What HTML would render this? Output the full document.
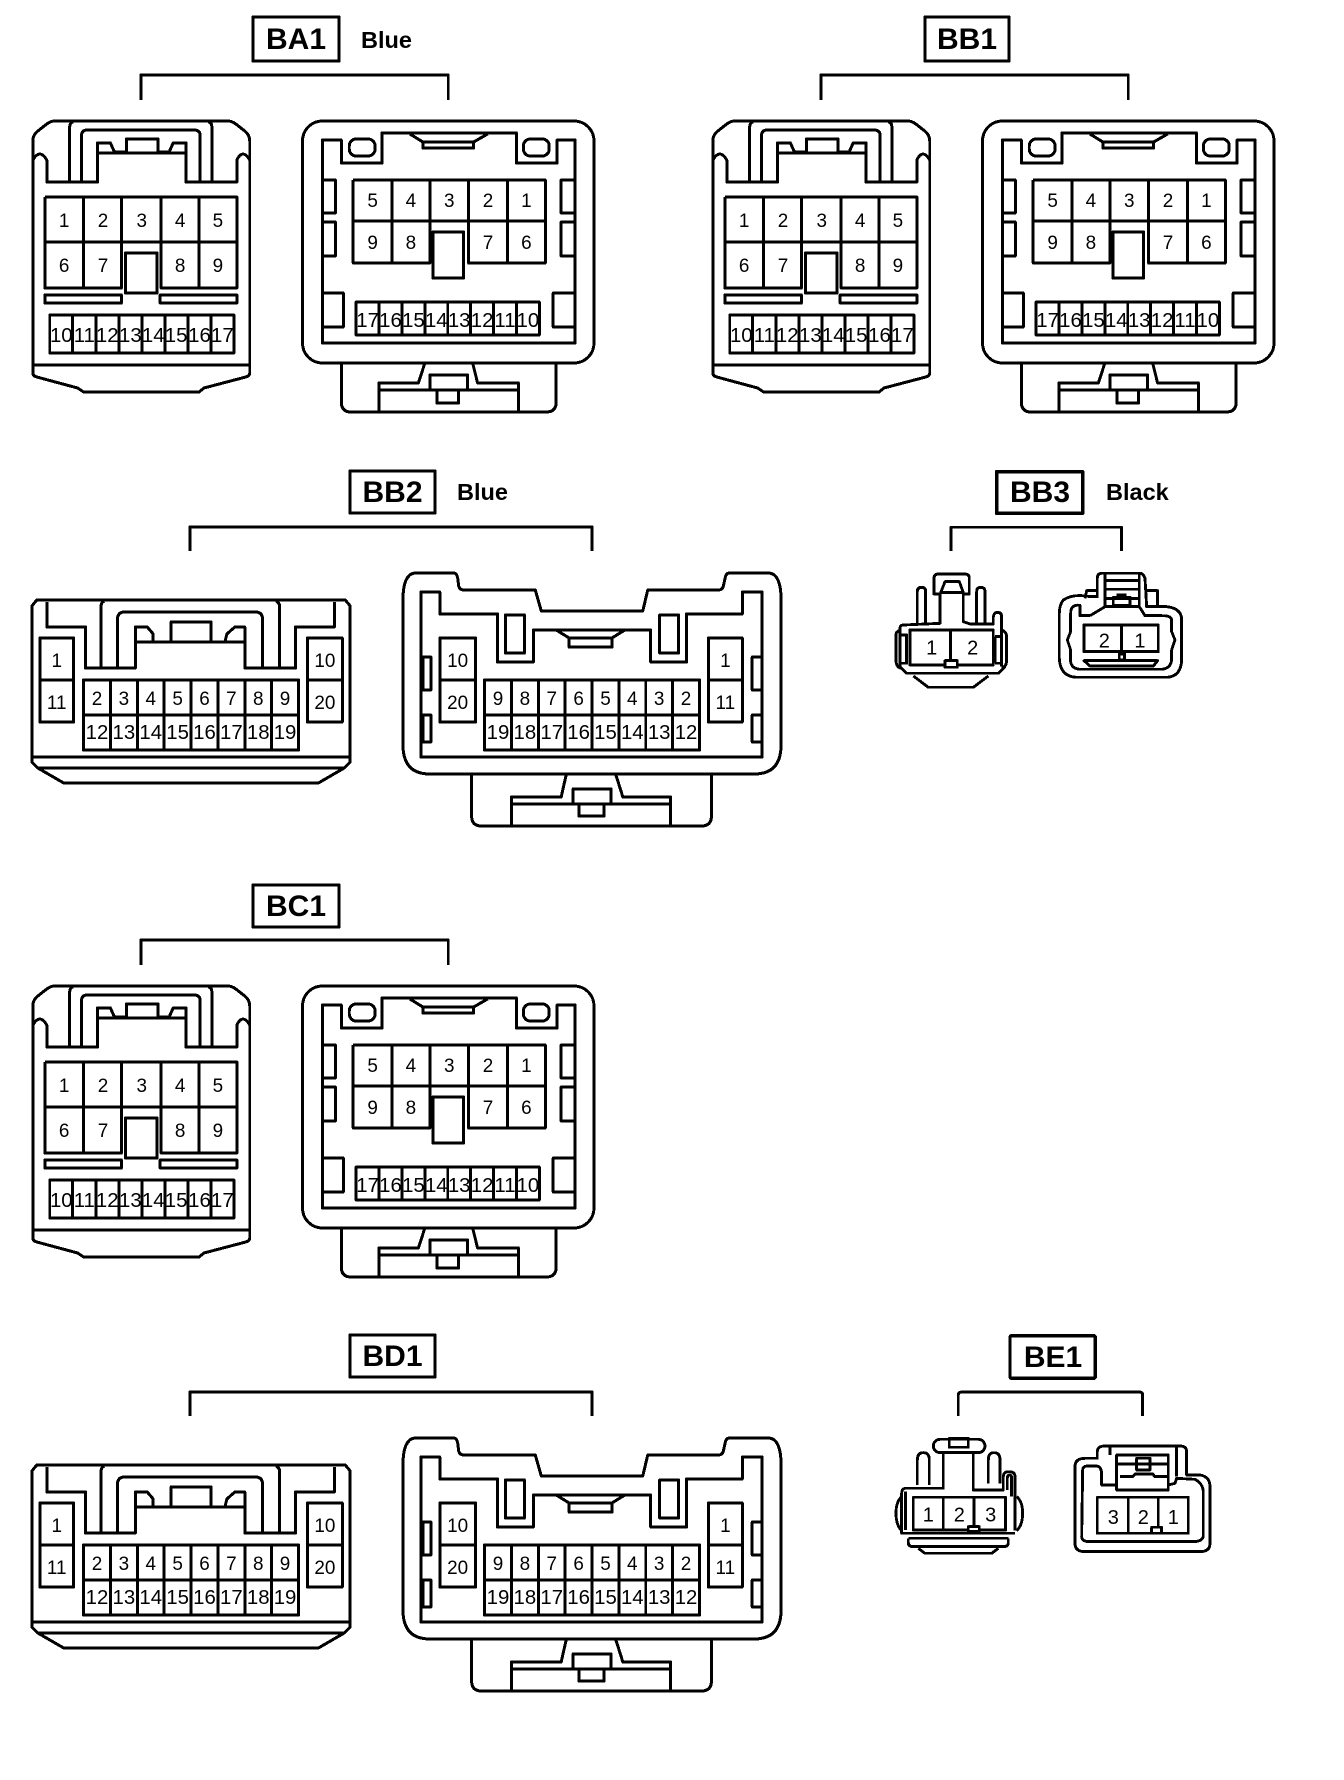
<!DOCTYPE html>
<html><head><meta charset="utf-8"><style>
html,body{margin:0;padding:0;background:#fff}
svg{display:block}
.s{fill:none;stroke:#000;stroke-width:3;stroke-linejoin:round}
.t{font-family:"Liberation Sans",sans-serif;font-size:19px;text-anchor:middle;fill:#000}
.l{font-size:20.5px}
.b{font-family:"Liberation Sans",sans-serif;font-weight:bold;font-size:30px;text-anchor:middle;fill:#000}
.c{font-family:"Liberation Sans",sans-serif;font-weight:bold;font-size:23.5px;fill:#000}
</style></head><body>
<svg width="1344" height="1780" viewBox="0 0 1344 1780" xmlns="http://www.w3.org/2000/svg" shape-rendering="crispEdges">
<rect width="1344" height="1780" fill="#fff"/>
<defs>
<g id="A" class="s">
<path d="M33,141 Q33,135 38,131 L47,124 Q51,121 55,121 L229,121 Q233,121 237,124 L246,131 Q251,135 251,141 L251,373 Q251,376 247,377 L205,388 L200,392 L84,392 L78,388 L37,377 Q33,376 33,373 Z"/>
<path d="M33,365 H251"/>
<path d="M33,160 Q40,148 47,160 V182 H98 V143 H111 L115,152 H127 V139 H159 V152 H170 L174,143 H187 V182 H238 V160 Q244,148 251,160"/>
<path d="M98,153 H187"/>
<path d="M70,182 V128 Q70,122 74,122 M213,182 V128 Q213,122 209,122"/>
<path d="M82,182 V135 Q82,130 88,130 H195 Q201,130 201,135 V182"/>
<path d="M45,197 H238 V288 H162 V242 M45,197 V288 H122 V197 M84,197 V288 M162,197 V242 M200,197 V288 M45,242 H238"/>
<rect x="126" y="253" width="32" height="40" fill="#fff"/>
<rect x="45" y="295" width="77" height="8"/>
<rect x="161" y="295" width="77" height="8"/>
<path d="M50,315 H235 V353 H50 Z M73.1,315 V353 M96.3,315 V353 M119.4,315 V353 M142.5,315 V353 M165.6,315 V353 M188.8,315 V353 M211.9,315 V353"/>
</g>
<g id="B" class="s">
<rect x="304" y="121" width="293" height="242" rx="20"/>
<path d="M324,140 H343 V163 H384 V133 H519 V163 H560 V140 H578 V343 H324 Z"/>
<rect x="351" y="139" width="26" height="17" rx="7"/>
<rect x="526" y="139" width="26" height="17" rx="7"/>
<path d="M412,134 L425,142 V148 H476 V142 L490,134 M425,142 H476"/>
<path d="M324,180 H337 V213 H324 M324,222 H337 V256 H324 M578,180 H564 V213 H578 M578,222 H564 V256 H578"/>
<path d="M324,293 H345 V327 H324 M578,293 H556 V327 H578"/>
<path d="M355,180 H548 V263 H471 V221 M355,180 V263 H432 V180 M394,180 V263 M471,180 V221 M510,180 V263 M355,221 H548"/>
<rect x="435" y="232" width="31" height="46" fill="#fff"/>
<path d="M358,302 H542 V335 H358 Z M381,302 V335 M404,302 V335 M427,302 V335 M450,302 V335 M473,302 V335 M496,302 V335 M519,302 V335"/>
<path d="M343,363 V402 Q343,412 353,412 H549 Q559,412 559,402 V363"/>
<path d="M427,363 L420.5,383 H381 V412 M475,363 L480,383 H521 V412 M381,390 H521"/>
<rect x="432" y="375" width="38" height="15" fill="#fff"/>
<rect x="439" y="390" width="22" height="13"/>
</g>
<g id="D" class="s">
<path d="M32,606 L37,600 H347 L352,606 V762 L346,768 L320,783 H64 L38,768 L32,762 Z"/>
<path d="M32,757 H352 M38,768 H346"/>
<path d="M47,602 V627 H86 V668 H136 V627 H148 L154,634 V642 M136,642 H246 M226,642 L228,634 L236,627 H246 V668 H297 V627 H336 V602"/>
<rect x="172" y="622" width="40" height="20" fill="#fff"/>
<path d="M101.5,668 V607 Q101.5,602 105,601 M281,668 V607 Q281,602 277,601"/>
<path d="M118,668 V620 Q118,612 125,612 H257 Q264,612 264,620 V668"/>
<path d="M40,638 H74 V722 H40 Z M40,680 H74"/>
<path d="M309,638 H344 V722 H309 Z M309,680 H344"/>
<path d="M84,680 H300 V750 H84 Z M84,715 H300 M111,680 V750 M138,680 V750 M165,680 V750 M192,680 V750 M219,680 V750 M246,680 V750 M273,680 V750"/>
</g>
<g id="E" class="s">
<path d="M405,600 Q405,573 418,573 H456 Q459,573 460,578 L461,586 Q462,590 466,590 H538 L544,611 H646 L651,590 H722 Q726,590 727,586 L729,577 Q730,573 733,573 H772 Q785,573 785,600 V745 Q785,774 758,774 H432 Q405,774 405,745 Z"/>
<path d="M423,592 H442 V614 H500 V662 H536 V630 H654 V662 H690 V614 H746 V592 H766 V757 H423 Z"/>
<rect x="508" y="615" width="19" height="38"/>
<rect x="663" y="615" width="19" height="38"/>
<path d="M559,630 L572,638 V647 H615 V638 L628,630 M572,638 H615"/>
<path d="M425,657 H433 V690 H425 Z M425,715 H433 V742 H425 Z M756,657 H766 V690 H756 Z M756,715 H766 V742 H756 Z"/>
<path d="M442,638 H478 V722 H442 Z M442,680 H478"/>
<path d="M712,638 H746 V722 H712 Z M712,680 H746"/>
<path d="M487,680 H703 V750 H487 Z M487,715 H703 M514,680 V750 M541,680 V750 M568,680 V750 M595,680 V750 M622,680 V750 M649,680 V750 M676,680 V750"/>
<path d="M474,774 V816 Q474,826 484,826 H705 Q715,826 715,816 V774"/>
<path d="M569,775 L564,797 H514 V826 M619,775 L626,797 H674 V826 M514,804 H674"/>
<rect x="576" y="789" width="38" height="15" fill="#fff"/>
<rect x="582" y="804" width="25" height="12"/>
</g>
</defs>

<!-- BA1 -->
<rect class="s" x="253" y="17" width="86" height="44" stroke-width="3.5"/>
<text class="b" x="296" y="49">BA1</text>
<text class="c" x="361" y="48">Blue</text>
<g transform="scale(0.995,1)">
<path class="s" d="M141.5,100 V75 H450.5 V100"/>
<use href="#A"/><use href="#B"/>
<text class="t" x="64.5" y="227">1</text><text class="t" x="103.5" y="227">2</text><text class="t" x="142.5" y="227">3</text><text class="t" x="181" y="227">4</text><text class="t" x="219" y="227">5</text>
<text class="t" x="64.5" y="272">6</text><text class="t" x="103.5" y="272">7</text><text class="t" x="181" y="272">8</text><text class="t" x="219" y="272">9</text>
<text class="t l" x="61.6" y="342">10</text><text class="t l" x="84.7" y="342">11</text><text class="t l" x="107.8" y="342">12</text><text class="t l" x="131" y="342">13</text><text class="t l" x="154" y="342">14</text><text class="t l" x="177" y="342">15</text><text class="t l" x="200.5" y="342">16</text><text class="t l" x="223.5" y="342">17</text>
<text class="t" x="374.5" y="207">5</text><text class="t" x="413" y="207">4</text><text class="t" x="451.5" y="207">3</text><text class="t" x="490.5" y="207">2</text><text class="t" x="529" y="207">1</text>
<text class="t" x="374.5" y="249">9</text><text class="t" x="413" y="249">8</text><text class="t" x="490.5" y="249">7</text><text class="t" x="529" y="249">6</text>
<text class="t l" x="369.5" y="327">17</text><text class="t l" x="392.5" y="327">16</text><text class="t l" x="415.5" y="327">15</text><text class="t l" x="438.5" y="327">14</text><text class="t l" x="461.5" y="327">13</text><text class="t l" x="484.5" y="327">12</text><text class="t l" x="507.5" y="327">11</text><text class="t l" x="530.5" y="327">10</text>
</g>

<!-- BB1 -->
<rect class="s" x="925" y="17" width="84" height="44" stroke-width="3.5"/>
<text class="b" x="967" y="49">BB1</text>
<g transform="translate(680,0) scale(0.995,1)">
<path class="s" d="M141.5,100 V75 H450.5 V100"/>
<use href="#A"/><use href="#B"/>
<text class="t" x="64.5" y="227">1</text><text class="t" x="103.5" y="227">2</text><text class="t" x="142.5" y="227">3</text><text class="t" x="181" y="227">4</text><text class="t" x="219" y="227">5</text>
<text class="t" x="64.5" y="272">6</text><text class="t" x="103.5" y="272">7</text><text class="t" x="181" y="272">8</text><text class="t" x="219" y="272">9</text>
<text class="t l" x="61.6" y="342">10</text><text class="t l" x="84.7" y="342">11</text><text class="t l" x="107.8" y="342">12</text><text class="t l" x="131" y="342">13</text><text class="t l" x="154" y="342">14</text><text class="t l" x="177" y="342">15</text><text class="t l" x="200.5" y="342">16</text><text class="t l" x="223.5" y="342">17</text>
<text class="t" x="374.5" y="207">5</text><text class="t" x="413" y="207">4</text><text class="t" x="451.5" y="207">3</text><text class="t" x="490.5" y="207">2</text><text class="t" x="529" y="207">1</text>
<text class="t" x="374.5" y="249">9</text><text class="t" x="413" y="249">8</text><text class="t" x="490.5" y="249">7</text><text class="t" x="529" y="249">6</text>
<text class="t l" x="369.5" y="327">17</text><text class="t l" x="392.5" y="327">16</text><text class="t l" x="415.5" y="327">15</text><text class="t l" x="438.5" y="327">14</text><text class="t l" x="461.5" y="327">13</text><text class="t l" x="484.5" y="327">12</text><text class="t l" x="507.5" y="327">11</text><text class="t l" x="530.5" y="327">10</text>
</g>

<!-- BC1 -->
<rect class="s" x="253" y="885" width="86" height="42" stroke-width="3.5"/>
<text class="b" x="296" y="916">BC1</text>
<g transform="translate(0,865) scale(0.995,1)">
<path class="s" d="M141.5,100 V75 H450.5 V100"/>
<use href="#A"/><use href="#B"/>
<text class="t" x="64.5" y="227">1</text><text class="t" x="103.5" y="227">2</text><text class="t" x="142.5" y="227">3</text><text class="t" x="181" y="227">4</text><text class="t" x="219" y="227">5</text>
<text class="t" x="64.5" y="272">6</text><text class="t" x="103.5" y="272">7</text><text class="t" x="181" y="272">8</text><text class="t" x="219" y="272">9</text>
<text class="t l" x="61.6" y="342">10</text><text class="t l" x="84.7" y="342">11</text><text class="t l" x="107.8" y="342">12</text><text class="t l" x="131" y="342">13</text><text class="t l" x="154" y="342">14</text><text class="t l" x="177" y="342">15</text><text class="t l" x="200.5" y="342">16</text><text class="t l" x="223.5" y="342">17</text>
<text class="t" x="374.5" y="207">5</text><text class="t" x="413" y="207">4</text><text class="t" x="451.5" y="207">3</text><text class="t" x="490.5" y="207">2</text><text class="t" x="529" y="207">1</text>
<text class="t" x="374.5" y="249">9</text><text class="t" x="413" y="249">8</text><text class="t" x="490.5" y="249">7</text><text class="t" x="529" y="249">6</text>
<text class="t l" x="369.5" y="327">17</text><text class="t l" x="392.5" y="327">16</text><text class="t l" x="415.5" y="327">15</text><text class="t l" x="438.5" y="327">14</text><text class="t l" x="461.5" y="327">13</text><text class="t l" x="484.5" y="327">12</text><text class="t l" x="507.5" y="327">11</text><text class="t l" x="530.5" y="327">10</text>
</g>

<!-- BB2 -->
<rect class="s" x="350" y="471" width="85" height="42" stroke-width="3.5"/>
<text class="b" x="392.5" y="502">BB2</text>
<text class="c" x="457" y="500">Blue</text>
<g transform="scale(0.995,1)">
<path class="s" d="M191,551 V527 H595 V551"/>
<use href="#D"/><use href="#E"/>
<text class="t" x="57" y="667">1</text><text class="t" x="57" y="709">11</text><text class="t" x="326.5" y="667">10</text><text class="t" x="326.5" y="709">20</text>
<text class="t" x="97.5" y="705">2</text><text class="t" x="124.5" y="705">3</text><text class="t" x="151.5" y="705">4</text><text class="t" x="178.5" y="705">5</text><text class="t" x="205.5" y="705">6</text><text class="t" x="232.5" y="705">7</text><text class="t" x="259.5" y="705">8</text><text class="t" x="286.5" y="705">9</text>
<text class="t l" x="97.5" y="739">12</text><text class="t l" x="124.5" y="739">13</text><text class="t l" x="151.5" y="739">14</text><text class="t l" x="178.5" y="739">15</text><text class="t l" x="205.5" y="739">16</text><text class="t l" x="232.5" y="739">17</text><text class="t l" x="259.5" y="739">18</text><text class="t l" x="286.5" y="739">19</text>
<text class="t" x="460" y="667">10</text><text class="t" x="460" y="709">20</text><text class="t" x="729" y="667">1</text><text class="t" x="729" y="709">11</text>
<text class="t" x="500.5" y="705">9</text><text class="t" x="527.5" y="705">8</text><text class="t" x="554.5" y="705">7</text><text class="t" x="581.5" y="705">6</text><text class="t" x="608.5" y="705">5</text><text class="t" x="635.5" y="705">4</text><text class="t" x="662.5" y="705">3</text><text class="t" x="689.5" y="705">2</text>
<text class="t l" x="500.5" y="739">19</text><text class="t l" x="527.5" y="739">18</text><text class="t l" x="554.5" y="739">17</text><text class="t l" x="581.5" y="739">16</text><text class="t l" x="608.5" y="739">15</text><text class="t l" x="635.5" y="739">14</text><text class="t l" x="662.5" y="739">13</text><text class="t l" x="689.5" y="739">12</text>
</g>

<!-- BD1 -->
<rect class="s" x="350" y="1335" width="85" height="42" stroke-width="3.5"/>
<text class="b" x="392.5" y="1366">BD1</text>
<g transform="translate(0,865) scale(0.995,1)">
<path class="s" d="M191,551 V527 H595 V551"/>
<use href="#D"/><use href="#E"/>
<text class="t" x="57" y="667">1</text><text class="t" x="57" y="709">11</text><text class="t" x="326.5" y="667">10</text><text class="t" x="326.5" y="709">20</text>
<text class="t" x="97.5" y="705">2</text><text class="t" x="124.5" y="705">3</text><text class="t" x="151.5" y="705">4</text><text class="t" x="178.5" y="705">5</text><text class="t" x="205.5" y="705">6</text><text class="t" x="232.5" y="705">7</text><text class="t" x="259.5" y="705">8</text><text class="t" x="286.5" y="705">9</text>
<text class="t l" x="97.5" y="739">12</text><text class="t l" x="124.5" y="739">13</text><text class="t l" x="151.5" y="739">14</text><text class="t l" x="178.5" y="739">15</text><text class="t l" x="205.5" y="739">16</text><text class="t l" x="232.5" y="739">17</text><text class="t l" x="259.5" y="739">18</text><text class="t l" x="286.5" y="739">19</text>
<text class="t" x="460" y="667">10</text><text class="t" x="460" y="709">20</text><text class="t" x="729" y="667">1</text><text class="t" x="729" y="709">11</text>
<text class="t" x="500.5" y="705">9</text><text class="t" x="527.5" y="705">8</text><text class="t" x="554.5" y="705">7</text><text class="t" x="581.5" y="705">6</text><text class="t" x="608.5" y="705">5</text><text class="t" x="635.5" y="705">4</text><text class="t" x="662.5" y="705">3</text><text class="t" x="689.5" y="705">2</text>
<text class="t l" x="500.5" y="739">19</text><text class="t l" x="527.5" y="739">18</text><text class="t l" x="554.5" y="739">17</text><text class="t l" x="581.5" y="739">16</text><text class="t l" x="608.5" y="739">15</text><text class="t l" x="635.5" y="739">14</text><text class="t l" x="662.5" y="739">13</text><text class="t l" x="689.5" y="739">12</text>
</g>

<!-- BB3 -->
<g transform="translate(860,450) scale(0.33333)">
<g class="s" style="stroke-width:8.5">
<rect x="410" y="65" width="258" height="125" stroke-width="10"/>
<path d="M273,303 V232 H785 V303"/>
<path d="M172,520 V425 Q172,412 185,412 Q197,412 197,425 V520 M350,520 V425 Q350,412 362,412 Q375,412 375,425 V520"/>
<path d="M120,545 V535 Q120,525 130,525 L240,520 V432 H222 V385 Q222,372 235,372 H315 Q328,372 328,385 V432 H310 V515 L330,522 H400 V500 Q402,487 412,487 Q425,487 425,500 V650"/>
<path d="M242,428 L255,395 H298 L310,428 Z"/>
<path d="M150,540 H400 V645 H150 Z M272,540 V632"/>
<rect x="255" y="632" width="37" height="20" fill="#fff"/>
<path d="M120,540 Q106,545 108,560 V630 Q108,650 122,655 M122,555 H140 V640 H122 M405,560 H425 M405,640 H425 M425,540 Q440,545 440,560 V630 Q440,650 425,655 M405,560 V640"/>
<path d="M120,540 V650 L140,670 H415 L435,650"/>
<path d="M160,678 L205,712 H340 L385,678"/>
</g>
<text class="t" x="215" y="614" style="font-size:60px">1</text>
<text class="t" x="338" y="614" style="font-size:60px">2</text>
<g class="s" style="stroke-width:8.5">
<path d="M712,440 H690 Q640,430 610,450 Q598,465 598,490 V625 Q600,680 650,682 H920 Q965,680 965,625 V510 Q965,475 920,470 H860 L855,385 Q850,370 840,370 H725 Q712,370 712,385 Z"/>
<path d="M675,445 L680,422 H712 M856,422 H893 V468"/>
<path d="M690,497 H660 V466 Q632,462 632,490 V545 L622,570 L632,600 V635 Q635,658 665,658 H905 Q935,655 935,625 V600 L945,570 L935,545 V510 Q935,497 905,497 H855 L838,470 V372 M735,372 V470 L690,497"/>
<path d="M738,392 H835 M738,418 H835 M738,446 H835 M738,470 H835"/>
<rect x="760" y="442" width="50" height="24"/>
<path d="M770,435 H800"/>
<path d="M672,525 H895 V605 H672 Z M785,525 V605"/>
<path d="M672,632 H893 L880,648 H690 Z"/>
<rect x="778" y="612" width="16" height="18"/>
</g>
<text class="t" x="733" y="592" style="font-size:60px">2</text>
<text class="t" x="840" y="592" style="font-size:60px">1</text>
</g>
<text class="b" x="1040" y="502">BB3</text>
<text class="c" x="1106" y="500">Black</text>

<!-- BE1 -->
<g transform="translate(860,1320) scale(0.33333)">
<g class="s" style="stroke-width:8.5">
<rect x="450" y="47" width="256" height="128" rx="5" stroke-width="10"/>
<path d="M295,288 V225 Q295,216 305,216 H838 Q848,216 848,225 V288"/>
<rect x="220" y="358" width="155" height="40" rx="20"/>
<rect x="268" y="355" width="57" height="27"/>
<path d="M135,505 H250 V398 M340,398 V510 H430 V470 Q430,455 447,455 Q465,455 465,470 V632 M442,510 V475 Q442,465 448,465 Q455,465 455,475 V530"/>
<path d="M172,495 V420 Q172,398 190,398 Q208,398 208,420 V495 M385,490 V420 Q385,398 402,398 Q420,398 420,420 V490"/>
<path d="M135,505 Q125,507 125,520 V640 H465 M137,515 V630"/>
<path d="M160,532 H437 V630 H160 Z M250,532 V630 M342,532 V620"/>
<rect x="325" y="620" width="33" height="14" fill="#fff"/>
<path d="M125,530 Q108,545 108,580 Q108,615 125,632 M470,530 Q488,545 488,580 Q488,615 470,632"/>
<path d="M145,655 H445 M145,655 V668 Q145,680 160,680 H430 Q445,680 445,668 V655"/>
<path d="M175,685 L195,700 H395 L415,685"/>
</g>
<text class="t" x="205" y="604" style="font-size:60px">1</text>
<text class="t" x="298" y="604" style="font-size:60px">2</text>
<text class="t" x="392" y="604" style="font-size:60px">3</text>
<g class="s" style="stroke-width:8.5">
<path d="M645,440 Q645,415 675,415 H712 V395 Q712,378 735,378 H960 Q980,378 980,395 V465 H1020 Q1050,470 1050,500 V670 Q1050,695 1020,695 H675 Q645,695 645,670 Z"/>
<path d="M668,450 Q668,440 680,438 H710 Q725,440 725,465 V495 H770 V510 H925 V495 L945,490 L950,475 L1005,478 Q1028,490 1030,515 V650 Q1025,665 1000,665 H690 Q665,665 665,650 Z"/>
<path d="M750,378 V405 M950,378 V470"/>
<rect x="770" y="405" width="155" height="105"/>
<path d="M770,432 H925 M780,470 H818 L825,462 H878 L885,470 H925"/>
<rect x="830" y="415" width="40" height="35"/>
<path d="M712,532 H985 V640 H712 Z M805,532 V640 M895,532 V622"/>
<rect x="875" y="622" width="30" height="18" fill="#fff"/>
</g>
<text class="t" x="760" y="612" style="font-size:60px">3</text>
<text class="t" x="850" y="612" style="font-size:60px">2</text>
<text class="t" x="940" y="612" style="font-size:60px">1</text>
</g>
<text class="b" x="1053" y="1367">BE1</text>
</svg>
</body></html>
